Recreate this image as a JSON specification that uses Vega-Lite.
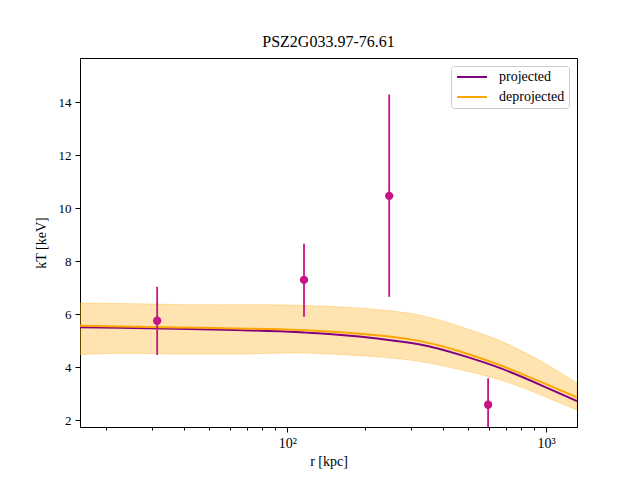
{
  "$schema": "https://vega.github.io/schema/vega-lite/v6.json",
  "autosize": "none",
  "width": 497,
  "height": 369,
  "padding": {"left": 80, "top": 58, "right": 63, "bottom": 53},
  "background": "white",
  "config": {
    "font": "Liberation Serif",
    "view": {"stroke": "black", "strokeWidth": 1},
    "axis": {
      "domainColor": "black",
      "tickColor": "black",
      "labelColor": "black",
      "titleColor": "black",
      "labelFont": "Liberation Serif",
      "titleFont": "Liberation Serif",
      "labelFontSize": 13,
      "titleFontSize": 14,
      "titleFontWeight": "normal",
      "grid": false
    },
    "title": {"font": "Liberation Serif", "fontSize": 16, "fontWeight": "normal", "color": "black", "offset": 8}
  },
  "title": "PSZ2G033.97-76.61",
  "datasets": {
    "band": [
      {"r": 15.8, "lo": 4.47, "hi": 6.42},
      {"r": 22.6, "lo": 4.52, "hi": 6.40},
      {"r": 33.1, "lo": 4.50, "hi": 6.37},
      {"r": 46.0, "lo": 4.49, "hi": 6.35},
      {"r": 71.8, "lo": 4.50, "hi": 6.35},
      {"r": 112, "lo": 4.53, "hi": 6.33},
      {"r": 175, "lo": 4.45, "hi": 6.25},
      {"r": 228.5, "lo": 4.38, "hi": 6.16},
      {"r": 326, "lo": 4.21, "hi": 5.96},
      {"r": 466, "lo": 3.90, "hi": 5.53},
      {"r": 665, "lo": 3.52, "hi": 4.99},
      {"r": 950, "lo": 2.96, "hi": 4.24},
      {"r": 1317, "lo": 2.38, "hi": 3.40}
    ],
    "lines": [
      {"r": 15.8, "kT": 5.50, "model": "projected"},
      {"r": 22.6, "kT": 5.48, "model": "projected"},
      {"r": 33.1, "kT": 5.46, "model": "projected"},
      {"r": 46.0, "kT": 5.43, "model": "projected"},
      {"r": 71.8, "kT": 5.38, "model": "projected"},
      {"r": 112, "kT": 5.31, "model": "projected"},
      {"r": 175, "kT": 5.18, "model": "projected"},
      {"r": 228.5, "kT": 5.06, "model": "projected"},
      {"r": 326, "kT": 4.85, "model": "projected"},
      {"r": 466, "kT": 4.46, "model": "projected"},
      {"r": 665, "kT": 3.96, "model": "projected"},
      {"r": 950, "kT": 3.33, "model": "projected"},
      {"r": 1317, "kT": 2.72, "model": "projected"},
      {"r": 15.8, "kT": 5.56, "model": "deprojected"},
      {"r": 22.6, "kT": 5.53, "model": "deprojected"},
      {"r": 33.1, "kT": 5.50, "model": "deprojected"},
      {"r": 46.0, "kT": 5.48, "model": "deprojected"},
      {"r": 71.8, "kT": 5.45, "model": "deprojected"},
      {"r": 112, "kT": 5.40, "model": "deprojected"},
      {"r": 175, "kT": 5.29, "model": "deprojected"},
      {"r": 228.5, "kT": 5.19, "model": "deprojected"},
      {"r": 326, "kT": 4.98, "model": "deprojected"},
      {"r": 466, "kT": 4.59, "model": "deprojected"},
      {"r": 665, "kT": 4.07, "model": "deprojected"},
      {"r": 950, "kT": 3.45, "model": "deprojected"},
      {"r": 1317, "kT": 2.86, "model": "deprojected"}
    ],
    "obs": [
      {"r": 31.4, "kT": 5.75, "lo": 4.46, "hi": 7.03},
      {"r": 116, "kT": 7.29, "lo": 5.90, "hi": 8.65},
      {"r": 247.6, "kT": 10.46, "lo": 6.65, "hi": 14.28},
      {"r": 597, "kT": 2.58, "lo": 1.2, "hi": 3.58}
    ]
  },
  "layer": [
    {
      "data": {"name": "band"},
      "mark": {"type": "area", "color": "orange", "fillOpacity": 0.3, "stroke": "orange", "strokeOpacity": 0.3, "strokeWidth": 1, "clip": true, "interpolate": "natural"},
      "encoding": {
        "x": {"field": "r", "type": "quantitative"},
        "y": {"field": "lo", "type": "quantitative"},
        "y2": {"field": "hi"}
      }
    },
    {
      "data": {"name": "lines"},
      "mark": {"type": "line", "strokeWidth": 2, "clip": true, "interpolate": "natural"},
      "encoding": {
        "x": {"field": "r", "type": "quantitative"},
        "y": {"field": "kT", "type": "quantitative"},
        "color": {
          "field": "model",
          "type": "nominal",
          "scale": {"domain": ["projected", "deprojected"], "range": ["purple", "orange"]},
          "legend": {
            "title": null,
            "orient": "top-right",
            "offset": 8,
            "symbolType": "M-1,0H5",
            "symbolSize": 100,
            "symbolStrokeWidth": 2,
            "labelFont": "Liberation Serif",
            "labelFontSize": 14,
            "labelColor": "black",
            "labelOffset": 30,
            "fillColor": "white",
            "strokeColor": "#cccccc",
            "cornerRadius": 3,
            "padding": 4,
            "rowPadding": 6
          }
        }
      }
    },
    {
      "data": {"name": "obs"},
      "mark": {"type": "rule", "color": "#c71585", "strokeWidth": 1.8, "clip": true},
      "encoding": {
        "x": {"field": "r", "type": "quantitative"},
        "y": {"field": "lo", "type": "quantitative"},
        "y2": {"field": "hi"}
      }
    },
    {
      "data": {"name": "obs"},
      "mark": {"type": "point", "filled": true, "shape": "circle", "color": "#c71585", "opacity": 1, "size": 70, "clip": true},
      "encoding": {
        "x": {
          "field": "r",
          "type": "quantitative",
          "title": "r [kpc]",
          "scale": {"type": "log", "domain": [15.8, 1317], "nice": false},
          "axis": {
            "values": [20, 30, 40, 50, 60, 70, 80, 90, 100, 200, 300, 400, 500, 600, 700, 800, 900, 1000],
            "labelExpr": "datum.value == 100 ? '10²' : datum.value == 1000 ? '10³' : ''",
            "tickSize": {"expr": "datum.value == 100 || datum.value == 1000 ? 5 : 3"},
            "labelFontSize": 14,
            "labelPadding": 4,
            "labelFlush": false,
            "labelOverlap": false,
            "titlePadding": 4
          }
        },
        "y": {
          "field": "kT",
          "type": "quantitative",
          "title": "kT [keV]",
          "scale": {"domain": [1.74, 15.66], "nice": false, "zero": false},
          "axis": {
            "values": [2, 4, 6, 8, 10, 12, 14],
            "tickSize": 5,
            "labelPadding": 4,
            "titlePadding": 10
          }
        }
      }
    }
  ]
}
